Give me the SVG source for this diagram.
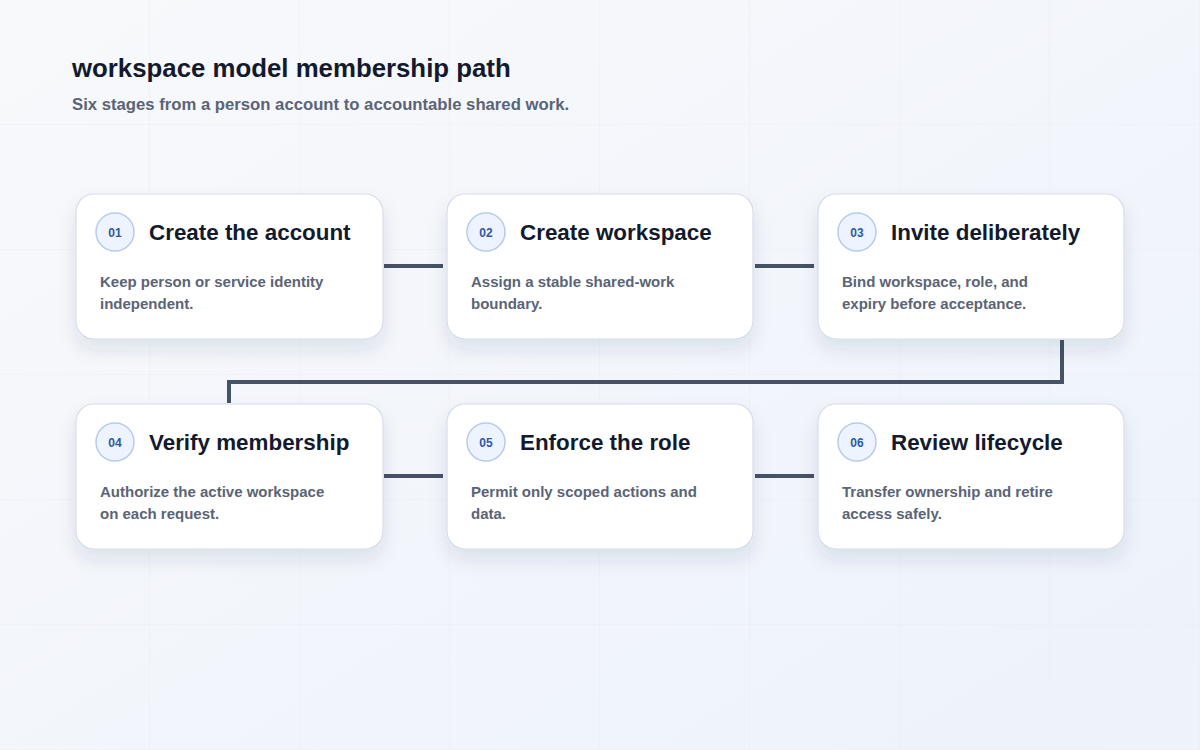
<svg xmlns="http://www.w3.org/2000/svg" width="1200" height="750" viewBox="0 0 1200 750">
<defs>
<linearGradient id="bg" x1="0" y1="0" x2="1" y2="1">
<stop offset="0" stop-color="#f8f9fb"/>
<stop offset="1" stop-color="#edf2fb"/>
</linearGradient>
<filter id="sh" x="-20%" y="-30%" width="140%" height="170%">
<feDropShadow dx="0" dy="10" stdDeviation="9" flood-color="#1e2a4a" flood-opacity="0.10"/>
</filter>
<pattern id="grid" width="150" height="125" patternUnits="userSpaceOnUse" x="0" y="0">
<path d="M150 0V125M0 125H150" fill="none" stroke="#e6eaf1" stroke-width="1"/>
</pattern>
</defs>
<style>
.card{fill:#ffffff;stroke:#d6dce8;stroke-width:1.2;filter:url(#sh)}
.badge{fill:#eef4ff;stroke:#b8cbec;stroke-width:1.5}
.num{font-family:"Liberation Sans",Arial,sans-serif;font-weight:700;font-size:12px;fill:#2d58a6;text-anchor:middle}
.ttl{font-family:"Liberation Sans",Arial,sans-serif;font-weight:700;font-size:22.4px;fill:#121a2c}
.desc{font-family:"Liberation Sans",Arial,sans-serif;font-weight:700;font-size:15px;fill:#5a6476}
.conn{fill:none;stroke:#465266;stroke-width:4}
</style>
<rect width="1200" height="750" fill="url(#bg)"/>
<rect width="1200" height="750" fill="url(#grid)" opacity="0.7"/>
<text x="72" y="77" font-family="Liberation Sans,Arial,sans-serif" font-weight="700" font-size="25.8" fill="#131a2e">workspace model membership path</text>
<text x="72" y="110" font-family="Liberation Sans,Arial,sans-serif" font-weight="700" font-size="16.7" fill="#5a6478">Six stages from a person account to accountable shared work.</text>
<g id="connectors">
<path class="conn" d="M384 266H443"/>
<path class="conn" d="M755 266H814"/>
<path class="conn" d="M1062 340V382H229V403"/>
<path class="conn" d="M384 476H443"/>
<path class="conn" d="M755 476H814"/>
</g>
<g id="n1">
<rect class="card" x="76" y="194" width="307" height="145" rx="18"/>
<circle class="badge" cx="115" cy="232" r="19"/>
<text class="num" x="115" y="236.5">01</text>
<text class="ttl" x="149" y="240">Create the account</text>
<text class="desc" x="100" y="287">Keep person or service identity</text>
<text class="desc" x="100" y="309">independent.</text>
</g>
<g id="n2">
<rect class="card" x="447" y="194" width="306" height="145" rx="18"/>
<circle class="badge" cx="486" cy="232" r="19"/>
<text class="num" x="486" y="236.5">02</text>
<text class="ttl" x="520" y="240">Create workspace</text>
<text class="desc" x="471" y="287">Assign a stable shared-work</text>
<text class="desc" x="471" y="309">boundary.</text>
</g>
<g id="n3">
<rect class="card" x="818" y="194" width="306" height="145" rx="18"/>
<circle class="badge" cx="857" cy="232" r="19"/>
<text class="num" x="857" y="236.5">03</text>
<text class="ttl" x="891" y="240">Invite deliberately</text>
<text class="desc" x="842" y="287">Bind workspace, role, and</text>
<text class="desc" x="842" y="309">expiry before acceptance.</text>
</g>
<g id="n4">
<rect class="card" x="76" y="404" width="307" height="145" rx="18"/>
<circle class="badge" cx="115" cy="442" r="19"/>
<text class="num" x="115" y="446.5">04</text>
<text class="ttl" x="149" y="450">Verify membership</text>
<text class="desc" x="100" y="497">Authorize the active workspace</text>
<text class="desc" x="100" y="519">on each request.</text>
</g>
<g id="n5">
<rect class="card" x="447" y="404" width="306" height="145" rx="18"/>
<circle class="badge" cx="486" cy="442" r="19"/>
<text class="num" x="486" y="446.5">05</text>
<text class="ttl" x="520" y="450">Enforce the role</text>
<text class="desc" x="471" y="497">Permit only scoped actions and</text>
<text class="desc" x="471" y="519">data.</text>
</g>
<g id="n6">
<rect class="card" x="818" y="404" width="306" height="145" rx="18"/>
<circle class="badge" cx="857" cy="442" r="19"/>
<text class="num" x="857" y="446.5">06</text>
<text class="ttl" x="891" y="450">Review lifecycle</text>
<text class="desc" x="842" y="497">Transfer ownership and retire</text>
<text class="desc" x="842" y="519">access safely.</text>
</g>
</svg>
